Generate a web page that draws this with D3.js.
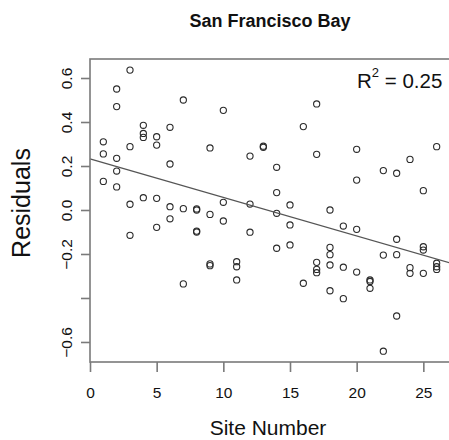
<!DOCTYPE html>
<html>
<head>
<meta charset="utf-8">
<script src="https://cdn.jsdelivr.net/npm/d3@7"></script>
<style>
  html, body { margin: 0; padding: 0; background: #fff; }
  svg { display: block; }
  text { font-family: "Liberation Sans", Arial, Helvetica, sans-serif; fill: #111; }
</style>
</head>
<body>
<svg id="chart" width="449" height="440"></svg>
<script>
// ---- data ----
const siteNumber = [
  1,1,1,
  2,2,2,2,2,
  3,3,3,3,
  4,4,4,4,
  5,5,5,5,
  6,6,6,6,
  7,7,7,
  8,8,8,8,
  9,9,9,9,
  10,10,10,
  11,11,11,
  12,12,12,
  13,13,
  14,14,14,14,
  15,15,15,
  16,16,
  17,17,17,17,17,
  18,18,18,18,18,
  19,19,19,
  20,20,20,20,
  21,21,21,
  22,22,22,
  23,23,23,23,
  24,24,24,
  25,25,25,25,
  26,26,26,26
];
const residual = [
  0.31, 0.255, 0.13,
  0.55, 0.47, 0.235, 0.177, 0.105,
  0.636, 0.288, 0.026, -0.115,
  0.385, 0.348, 0.33, 0.056,
  0.333, 0.295, 0.053, -0.079,
  0.376, 0.209, 0.015, -0.04,
  0.5, 0.006, -0.336,
  0.005, 0.0, -0.096, -0.1,
  0.282, -0.02, -0.245, -0.253,
  0.453, 0.035, -0.05,
  -0.235, -0.258, -0.318,
  0.245, 0.027, -0.101,
  0.29, 0.285,
  0.194, 0.079, -0.015, -0.174,
  0.023, -0.068, -0.159,
  0.379, -0.333,
  0.482, 0.253, -0.238, -0.27, -0.285,
  0.0, -0.17, -0.203, -0.25, -0.367,
  -0.073, -0.26, -0.403,
  0.276, 0.136, -0.088, -0.282,
  -0.318, -0.325, -0.356,
  0.179, -0.205, -0.642,
  0.167, -0.133, -0.203, -0.482,
  0.23, -0.262, -0.288,
  0.088, -0.167, -0.182, -0.288,
  0.288, -0.242, -0.258, -0.27
];
// fitted line: value at site 0 and site 27
const fitX = [0, 27];
const fitY = [0.232, -0.2405];

const xTicks = [0, 5, 10, 15, 20, 25];
const xTickLabels = ["0", "5", "10", "15", "20", "25"];
const yTicks = [-0.6, -0.4, -0.2, 0.0, 0.2, 0.4, 0.6];
const yTickLabels = ["\u22120.6", "", "\u22120.2", "0.0", "0.2", "0.4", "0.6"];

const titleText = "San Francisco Bay";
const xLabel = "Site Number";
const yLabel = "Residuals";
const r2Value = "0.25";

// ---- drawing ----
const svg = d3.select("#chart");
const mLeft = 90, mRight = 450, mTop = 59, mBottom = 362;
const x = d3.scaleLinear().domain([0, 27]).range([mLeft, mRight]);
const y = d3.scaleLinear().domain([-0.691, 0.6864]).range([mBottom, mTop]);
const axisColor = "#7a7a7a";

// points
svg.append("g").selectAll("circle")
  .data(siteNumber.map((s, i) => ({ s, v: residual[i] })))
  .join("circle")
  .attr("cx", d => x(d.s))
  .attr("cy", d => y(d.v))
  .attr("r", 3.1)
  .attr("fill", "none")
  .attr("stroke", "#2a2a2a")
  .attr("stroke-width", 1.1);

// fit line
svg.append("line")
  .attr("x1", x(fitX[0])).attr("y1", y(fitY[0]))
  .attr("x2", x(fitX[1])).attr("y2", y(fitY[1]))
  .attr("stroke", "#555").attr("stroke-width", 1.3);

// box
svg.append("rect")
  .attr("x", mLeft).attr("y", mTop)
  .attr("width", mRight - mLeft).attr("height", mBottom - mTop)
  .attr("fill", "none").attr("stroke", axisColor).attr("stroke-width", 1.6);

// x axis
const gx = svg.append("g").attr("transform", `translate(0,${mBottom})`)
  .call(d3.axisBottom(x).tickValues(xTicks)
    .tickFormat((d, i) => xTickLabels[i]).tickSize(10).tickSizeOuter(0));
gx.select(".domain").remove();
gx.selectAll(".tick line").attr("stroke", axisColor).attr("stroke-width", 1.6);
gx.selectAll(".tick text")
  .attr("y", 36).attr("dy", 0)
  .style("font-size", "15.5px")
  .style("font-family", "'Liberation Sans', Arial, sans-serif")
  .attr("fill", "#111");

// y axis
const gy = svg.append("g").attr("transform", `translate(${mLeft},0)`)
  .call(d3.axisLeft(y).tickValues(yTicks)
    .tickFormat((d, i) => yTickLabels[i]).tickSize(9).tickSizeOuter(0));
gy.select(".domain").remove();
gy.selectAll(".tick line").attr("stroke", axisColor).attr("stroke-width", 1.6);
gy.selectAll(".tick text")
  .attr("x", 0).attr("dy", 0)
  .attr("transform", "translate(-18.5,0) rotate(-90)")
  .attr("text-anchor", "middle")
  .style("font-size", "15.5px")
  .style("font-family", "'Liberation Sans', Arial, sans-serif")
  .attr("fill", "#111");

// title
svg.append("text")
  .attr("x", 270).attr("y", 27)
  .attr("text-anchor", "middle")
  .style("font-size", "18px").style("font-weight", "bold")
  .text(titleText);

// x label
svg.append("text")
  .attr("x", 268).attr("y", 435)
  .attr("text-anchor", "middle")
  .style("font-size", "21px")
  .text(xLabel);

// y label
svg.append("text")
  .attr("transform", "translate(30,203) rotate(-90)")
  .attr("text-anchor", "middle")
  .style("font-size", "25px")
  .text(yLabel);

// R^2 annotation
const r2 = svg.append("text")
  .attr("x", 357).attr("y", 88)
  .style("font-size", "20.5px");
r2.append("tspan").text("R");
r2.append("tspan").attr("dy", -11).style("font-size", "13px").text("2");
r2.append("tspan").attr("dy", 11).text(" = " + r2Value);
</script>
</body>
</html>
